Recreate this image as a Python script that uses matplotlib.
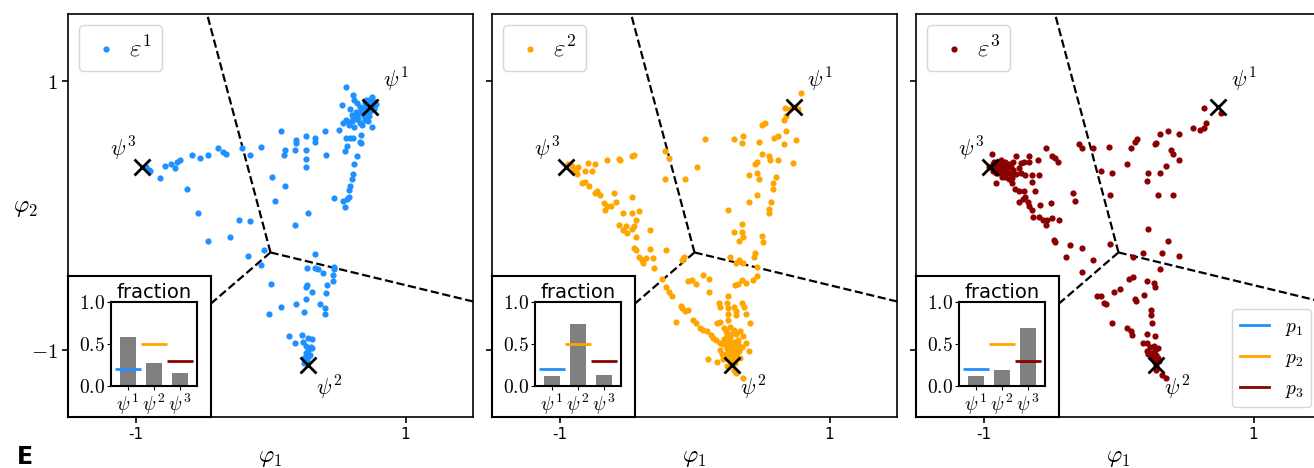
import matplotlib
matplotlib.use('Agg')
import matplotlib.pyplot as plt
from matplotlib.lines import Line2D
import numpy as np

plt.rcParams['mathtext.fontset'] = 'cm'

# ---------------- data ----------------
colors = ['dodgerblue', 'orange', 'darkred']
series_labels = [r'$\varepsilon^1$', r'$\varepsilon^2$', r'$\varepsilon^3$']
psi_points = [(0.74, 0.81), (0.28, -1.11), (-0.95, 0.36)]
psi_labels = [r'$\psi^1$', r'$\psi^2$', r'$\psi^3$']
p_labels = [r'$p_1$', r'$p_2$', r'$p_3$']
p_ref = [0.2, 0.5, 0.3]
fractions = [[0.58, 0.27, 0.15],
             [0.12, 0.74, 0.13],
             [0.12, 0.19, 0.69]]
boundary_vertex = (0.0, -0.275)
boundary_ends = [(-0.47, 1.5), (1.5, -0.64), (-1.42, -1.5)]

eps1_points = [
    (-0.92, 0.36), (-0.90, 0.34), (-0.89, 0.33), (-0.82, 0.28), (-0.78, 0.37), (-0.74, 0.38),
    (-0.71, 0.35), (-0.69, 0.40), (-0.67, 0.41), (-0.58, 0.45), (-0.52, 0.43), (-0.46, 0.45),
    (-0.39, 0.50), (-0.35, 0.47), (-0.33, 0.46), (-0.62, 0.20), (-0.54, 0.02), (-0.46, -0.19),
    (-0.30, -0.16), (-0.23, -0.03), (-0.15, -0.04), (-0.21, 0.50), (-0.15, 0.45), (-0.07, 0.51),
    (0.01, 0.29), (0.03, 0.11), (0.11, 0.22), (0.18, -0.07), (0.28, 0.02), (0.08, 0.63),
    (0.19, 0.56), (0.19, 0.54), (0.26, 0.59), (0.33, 0.58), (0.33, 0.55), (0.40, 0.63),
    (0.11, 0.49), (0.10, 0.45), (0.18, 0.49), (0.26, 0.49), (0.26, 0.42), (0.26, 0.36),
    (0.41, 0.45),
    (0.56, 0.96), (0.61, 0.90), (0.62, 0.86), (0.64, 0.84), (0.53, 0.82), (0.59, 0.79),
    (0.60, 0.75), (0.66, 0.81), (0.68, 0.79), (0.71, 0.86), (0.75, 0.88), (0.76, 0.85),
    (0.77, 0.81), (0.71, 0.76), (0.73, 0.74), (0.70, 0.71), (0.66, 0.69), (0.62, 0.66),
    (0.64, 0.74), (0.56, 0.71), (0.54, 0.69), (0.57, 0.70), (0.75, 0.66), (0.77, 0.79),
    (0.68, 0.67), (0.51, 0.64), (0.67, 0.60), (0.66, 0.55), (0.67, 0.54), (0.56, 0.58),
    (0.59, 0.58), (0.61, 0.58), (0.57, 0.52), (0.55, 0.48), (0.64, 0.44), (0.62, 0.38),
    (0.61, 0.31), (0.60, 0.27), (0.59, 0.22), (0.58, 0.19), (0.58, 0.14), (0.57, 0.12),
    (0.54, 0.11), (0.55, 0.06), (0.47, 0.13),
    (0.70, 0.80), (0.72, 0.82), (0.74, 0.78), (0.69, 0.77), (0.66, 0.76), (0.63, 0.72),
    (0.60, 0.70), (0.72, 0.70), (0.74, 0.84), (0.72, 0.79), (0.69, 0.74), (0.65, 0.72),
    (0.76, 0.83), (0.78, 0.83), (0.73, 0.86), (0.70, 0.84), (0.67, 0.78), (0.63, 0.77),
    (0.61, 0.73), (0.58, 0.67),
    (-0.05, -0.26), (-0.17, -0.30), (-0.07, -0.37), (0.00, -0.51), (-0.01, -0.73), (0.08, -0.68),
    (0.19, -0.66), (0.26, -0.62), (0.25, -0.72), (0.37, -0.66), (0.40, -0.69), (0.40, -0.73),
    (0.31, -0.57), (0.41, -0.58), (0.42, -0.52), (0.46, -0.49), (0.46, -0.44), (0.47, -0.40),
    (0.47, -0.38), (0.39, -0.43), (0.35, -0.40), (0.33, -0.39), (0.27, -0.39), (0.33, -0.29),
    (0.27, -0.52), (0.26, -0.53), (0.14, -0.90), (0.18, -0.95), (0.23, -0.89), (0.24, -0.94),
    (0.28, -0.91), (0.31, -0.92), (0.30, -0.98), (0.28, -1.00), (0.26, -1.02), (0.25, -1.06),
    (0.28, -1.05), (0.29, -1.04), (0.31, -0.99), (0.25, -1.10), (0.27, -1.08), (0.26, -0.97),
    (0.29, -0.99),
]

eps2_points = [
    (-0.94, 0.38), (-0.91, 0.37), (-0.88, 0.34), (-0.87, 0.31), (-0.89, 0.33), (-0.86, 0.36),
    (-0.79, 0.39), (-0.74, 0.38), (-0.81, 0.33), (-0.76, 0.33), (-0.83, 0.24), (-0.81, 0.25),
    (-0.78, 0.22), (-0.74, 0.17), (-0.70, 0.15), (-0.72, 0.18), (-0.65, 0.41), (-0.56, 0.42),
    (-0.55, 0.41), (-0.46, 0.44), (-0.45, 0.45), (-0.60, 0.17), (-0.67, 0.09), (-0.65, 0.07),
    (-0.66, 0.04), (-0.62, 0.07), (-0.58, 0.10), (-0.46, 0.14), (-0.53, 0.02), (-0.46, 0.02),
    (-0.41, 0.03), (-0.43, -0.03), (-0.56, -0.07), (-0.53, -0.11), (-0.51, -0.08), (-0.50, -0.13),
    (-0.46, -0.10), (-0.45, -0.08), (-0.33, -0.11), (-0.43, -0.16), (-0.45, -0.24), (-0.43, -0.26),
    (-0.41, -0.31), (-0.39, -0.33), (-0.36, -0.32), (-0.38, -0.35), (-0.33, -0.25), (-0.31, -0.32),
    (-0.30, -0.39), (-0.21, -0.26), (-0.24, -0.47), (-0.21, -0.53), (-0.19, -0.57), (-0.17, -0.60),
    (-0.10, -0.67), (-0.09, -0.69), (-0.07, -0.71), (-0.05, -0.70), (-0.14, -0.79), (-0.01, -0.78),
    (0.01, -0.80), (0.04, -0.84), (0.06, -0.85), (0.09, -0.86), (0.12, -0.89), (0.14, -0.91),
    (0.16, -0.93), (0.19, -0.95), (0.10, -1.07), (0.17, -1.09), (0.21, -1.07), (0.25, -1.05),
    (0.29, -1.15), (0.36, -1.21), (0.31, -1.17), (0.40, -1.01), (-0.22, 0.48), (-0.19, 0.43),
    (-0.22, 0.27), (-0.07, 0.27), (0.02, 0.36), (-0.09, -0.33), (-0.08, -0.31), (-0.05, -0.49),
    (-0.02, -0.48), (0.01, -0.51), (0.06, -0.44), (0.11, -0.47), (0.11, -0.57),
    (0.08, 0.57), (0.29, 0.57), (0.35, 0.54), (0.36, 0.59), (0.48, 0.55), (0.50, 0.67),
    (0.52, 0.69), (0.59, 0.58), (0.62, 0.59), (0.66, 0.53), (0.68, 0.63), (0.66, 0.71),
    (0.68, 0.74), (0.71, 0.79), (0.73, 0.81), (0.77, 0.79), (0.79, 0.91), (0.67, 0.80),
    (0.75, 0.56), (0.73, 0.39), (0.46, 0.40), (0.45, 0.38), (0.50, 0.46), (0.55, 0.44),
    (0.56, 0.41), (0.62, 0.41), (0.60, 0.29), (0.58, 0.24), (0.58, 0.20), (0.57, 0.10),
    (0.55, 0.05), (0.55, 0.02), (0.48, 0.27), (0.46, 0.32), (0.40, 0.30), (0.46, 0.15),
    (0.40, 0.10), (0.25, 0.04), (0.35, -0.06), (0.29, -0.12), (0.35, -0.12), (0.36, -0.16),
    (0.33, -0.19), (0.50, -0.15), (0.51, -0.20), (0.45, -0.28), (0.44, -0.31), (0.33, -0.33),
    (0.31, -0.35), (0.26, -0.31), (0.36, -0.35), (0.46, -0.38), (0.46, -0.45), (0.43, -0.48),
    (0.38, -0.50), (0.35, -0.48), (0.32, -0.51), (0.30, -0.52), (0.25, -0.60), (0.24, -0.65),
    (0.25, -0.69), (0.18, -0.65), (0.19, -0.68), (0.29, -0.68), (0.31, -0.71), (0.31, -0.74),
    (0.35, -0.65), (0.37, -0.68), (0.38, -0.73), (0.41, -0.80), (0.25, -0.73), (0.25, -0.78),
    (0.26, -0.83), (0.24, -0.89), (0.26, -0.91), (0.27, -0.95), (0.29, -0.98), (0.30, -0.94),
    (0.32, -0.93), (0.33, -0.98), (0.31, -1.02), (0.27, -1.02), (0.24, -0.99), (0.21, -0.96),
    (0.29, -0.85), (0.34, -0.86), (0.36, -0.90), (0.38, -0.95), (0.19, -0.79), (0.17, -0.80),
    (0.22, -0.84),
    (0.22, -0.92), (0.24, -0.96), (0.26, -0.98), (0.28, -0.96), (0.30, -0.99), (0.25, -1.00),
    (0.27, -1.04), (0.29, -1.06), (0.23, -1.03), (0.31, -1.03), (0.33, -1.01), (0.26, -1.08),
    (0.30, -1.10), (0.24, -1.12), (0.27, -0.88), (0.31, -0.88), (0.22, -1.06), (0.20, -1.03),
    (0.34, -1.06), (0.28, -1.00), (0.25, -0.94), (0.32, -0.96), (0.35, -0.98), (0.19, -1.00),
    (0.23, -0.86),
]

eps3_points = [
    (-0.96, 0.36), (-0.94, 0.46), (-0.92, 0.40), (-0.91, 0.38), (-0.90, 0.34), (-0.89, 0.32),
    (-0.87, 0.36), (-0.86, 0.39), (-0.85, 0.35), (-0.84, 0.33), (-0.82, 0.36), (-0.81, 0.38),
    (-0.89, 0.40), (-0.86, 0.29), (-0.84, 0.29), (-0.81, 0.27), (-0.79, 0.24), (-0.76, 0.44),
    (-0.72, 0.39), (-0.70, 0.40), (-0.66, 0.44), (-0.66, 0.40), (-0.60, 0.41), (-0.54, 0.50),
    (-0.49, 0.44), (-0.47, 0.43), (-0.45, 0.40), (-0.69, 0.30), (-0.64, 0.30), (-0.59, 0.30),
    (-0.91, 0.24), (-0.77, 0.20), (-0.74, 0.18), (-0.70, 0.18), (-0.69, 0.14), (-0.71, 0.12),
    (-0.74, 0.10), (-0.67, 0.10), (-0.66, 0.07), (-0.64, 0.04), (-0.63, -0.01), (-0.59, -0.01),
    (-0.56, -0.03), (-0.54, -0.07), (-0.53, -0.03), (-0.49, -0.02), (-0.44, -0.03), (-0.62, 0.18),
    (-0.64, 0.25), (-0.58, 0.08), (-0.50, 0.09), (-0.48, -0.18), (-0.47, -0.20), (-0.39, -0.31),
    (-0.36, -0.22), (-0.27, -0.24), (-0.19, -0.33), (-0.27, -0.42), (-0.34, 0.17), (-0.32, 0.11),
    (-0.06, -0.21), (-0.13, 0.33), (-0.05, 0.32), (-0.06, 0.15), (-0.29, 0.53), (-0.27, 0.50),
    (-0.19, 0.50), (-0.07, 0.51), (0.06, 0.38), (0.09, 0.50), (0.12, 0.55), (0.14, 0.57),
    (0.21, 0.26), (0.22, 0.32), (0.27, 0.53), (0.28, 0.54), (0.31, 0.61), (0.31, 0.32),
    (0.29, 0.15), (0.35, 0.37), (0.39, 0.49), (0.40, 0.46), (0.40, 0.15), (0.45, 0.61),
    (0.45, 0.41), (0.37, 0.63), (0.55, 0.65), (0.60, 0.64), (0.63, 0.65), (0.65, 0.69),
    (0.63, 0.80), (0.76, 0.76),
    (-0.88, 0.37), (-0.85, 0.38), (-0.83, 0.34), (-0.87, 0.33), (-0.80, 0.31), (-0.84, 0.40),
    (-0.93, 0.38), (-0.92, 0.35), (-0.90, 0.37), (-0.88, 0.39), (-0.86, 0.34), (-0.91, 0.32),
    (-0.89, 0.36), (-0.87, 0.41), (-0.83, 0.38), (-0.82, 0.32), (-0.85, 0.30), (-0.80, 0.36),
    (-0.78, 0.34), (-0.76, 0.31), (-0.79, 0.28), (-0.93, 0.33), (-0.78, 0.40), (-0.74, 0.35),
    (-0.72, 0.32),
    (0.22, -0.10), (0.37, -0.19), (0.45, -0.30), (0.32, -0.28), (0.18, -0.28), (0.11, -0.31),
    (0.08, -0.47), (0.11, -0.46), (0.31, -0.40), (0.21, -0.49), (0.26, -0.50), (0.27, -0.53),
    (0.19, -0.59), (0.01, -0.55), (-0.03, -0.57), (-0.13, -0.60), (-0.16, -0.60), (-0.11, -0.65),
    (-0.09, -0.66), (0.12, -0.62), (0.13, -0.64), (-0.05, -0.80), (0.06, -0.84), (0.09, -0.86),
    (0.10, -0.89), (0.24, -0.70), (0.24, -0.74), (0.25, -0.80), (0.21, -0.88), (0.27, -0.90),
    (0.18, -0.95), (0.21, -0.95), (0.23, -0.98), (0.26, -0.97), (0.27, -1.00), (0.29, -0.99),
    (0.21, -1.01), (0.24, -1.02), (0.28, -1.04), (0.29, -1.06), (0.26, -1.07), (0.28, -1.12),
    (0.28, -1.15), (0.32, -1.19), (0.35, -1.21), (0.22, -1.03), (0.25, -1.05), (0.27, -1.09),
    (0.30, -1.08),
]
all_points = [eps1_points, eps2_points, eps3_points]

# ---------------- figure ----------------
W, H = 1314, 468
fig = plt.figure(figsize=(W / 100, H / 100), dpi=100)
lefts_px = [68, 492, 916]
ax_w, ax_h, ax_b = 405, 403, 51
psi_offsets = [(18, 19), (15, -17), (-14, 13)]


def eps_legend(ax, handle, label):
    return ax.legend([handle], [label], loc='upper left', fontsize=18, handlelength=1.3,
                     handletextpad=0.3, scatterpoints=1, borderpad=0.4,
                     borderaxespad=0.45)


for i in range(3):
    ax = fig.add_axes([lefts_px[i] / W, ax_b / H, ax_w / W, ax_h / H])
    ax.set_xlim(-1.5, 1.5)
    ax.set_ylim(-1.5, 1.5)
    for sp in ax.spines.values():
        sp.set_linewidth(1.2)
    ax.tick_params(width=1.2, length=4)

    # region boundaries
    vx, vy = boundary_vertex
    for ex, ey in boundary_ends:
        ax.plot([vx, ex], [vy, ey], color='black', ls='--', lw=1.6, zorder=1)

    pts = np.array(all_points[i])
    sc = ax.scatter(pts[:, 0], pts[:, 1], s=20, color=colors[i], linewidths=0,
                    label=series_labels[i], zorder=2)

    psi = np.array(psi_points)
    ax.plot(psi[:, 0], psi[:, 1], 'x', color='black', ms=12, mew=2, zorder=4)
    for j in range(3):
        ax.annotate(psi_labels[j], xy=psi_points[j], xytext=psi_offsets[j],
                    textcoords='offset points', ha='center', va='center',
                    fontsize=16, zorder=4)

    leg1 = eps_legend(ax, sc, series_labels[i])

    ax.set_xticks([-1, 1])
    ax.set_xticklabels(['-1', '1'], fontsize=11)
    ax.set_yticks([-1, 1])
    if i == 0:
        ax.set_yticklabels([r'$-1$', r'$1$'], fontsize=15)
        ax.set_ylabel(r'$\varphi_2$', fontsize=17, rotation=0, ha='center', va='center')
        ax.yaxis.set_label_coords(-0.106, 0.521)
    else:
        ax.set_yticklabels([])
    ax.set_xlabel(r'$\varphi_1$', fontsize=17, va='center')
    ax.xaxis.set_label_coords(0.5, -0.1)

    # inset box
    box = ax.inset_axes([0, 0, 0.352, 0.350])
    box.set_xticks([])
    box.set_yticks([])
    box.set_facecolor('white')
    for sp in box.spines.values():
        sp.set_linewidth(1.5)
    box.set_zorder(5)

    bar = ax.inset_axes([0.106, 0.077, 0.212, 0.209])
    bar.set_zorder(6)
    bar.bar(range(3), fractions[i], width=0.6, color='gray')
    for j in range(3):
        bar.hlines(p_ref[j], j - 0.5, j + 0.5, color=colors[j], lw=2)
    bar.set_ylim(0, 1)
    bar.set_xlim(-0.65, 2.65)
    bar.set_yticks([0, 0.5, 1.0])
    bar.set_yticklabels([r'$0.0$', r'$0.5$', r'$1.0$'], fontsize=14)
    bar.set_xticks([0, 1, 2])
    bar.set_xticklabels(psi_labels, fontsize=14)
    bar.tick_params(pad=1.5, length=3)
    for sp in bar.spines.values():
        sp.set_linewidth(1.5)
    bar.set_title('fraction', fontsize=14, pad=3)

    if i == 2:
        handles = [Line2D([0], [0], color=c, lw=2) for c in colors]
        ax.add_artist(leg1)
        ax.legend(handles, p_labels, loc='lower right', fontsize=14, handlelength=1.5)

fig.text(17 / W, 4 / H, 'E', fontsize=17, fontweight='bold', va='baseline')

fig.savefig('out.png', dpi=100)
